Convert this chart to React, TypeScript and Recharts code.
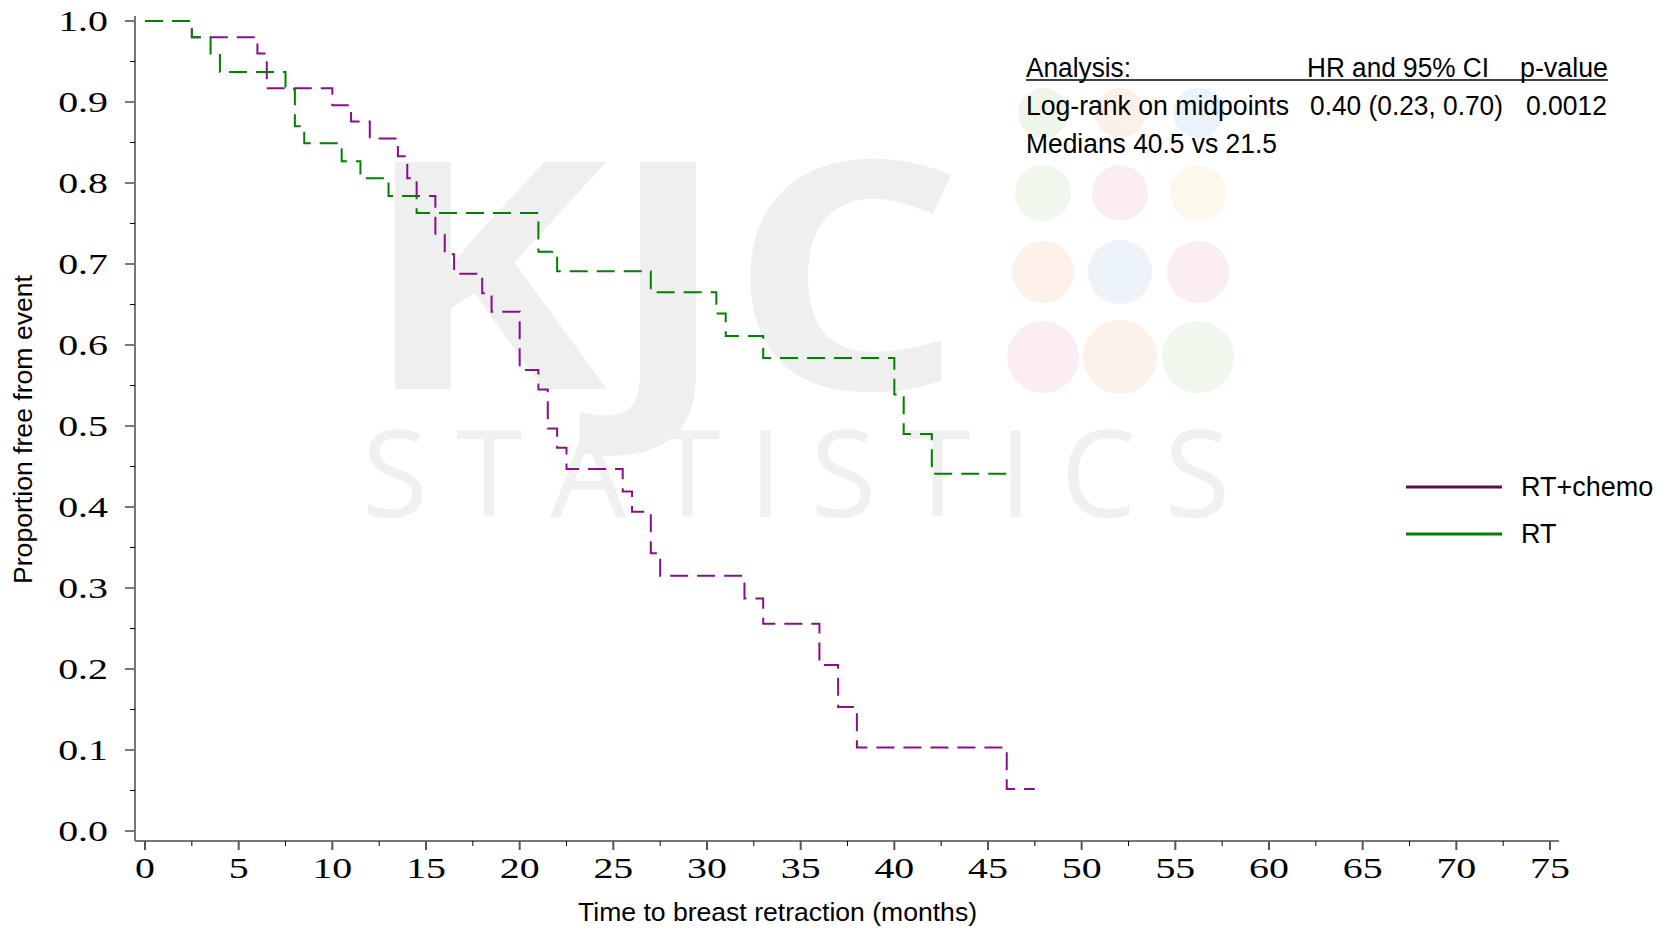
import React from 'react'
import { LineChart, Line, XAxis, YAxis } from 'recharts'

// Kaplan-Meier step points (months, proportion free from event)
const rtTimes = [0, 2.5, 3.5, 4, 7.5, 8, 8.5, 10.5, 11.5, 13, 14.5, 21, 22, 27, 30.5, 31, 33, 40, 40.5, 42, 46]
const rtSurv = [1, 0.98, 0.958, 0.937, 0.916, 0.87, 0.849, 0.827, 0.806, 0.784, 0.763, 0.715, 0.691, 0.665, 0.639, 0.611, 0.584, 0.539, 0.49, 0.441, 0.441]

const chemoTimes = [0, 2.5, 6, 6.5, 10, 11, 12, 13.5, 14, 14.5, 15.5, 16, 16.5, 18, 18.5, 20, 21, 21.5, 22, 22.5, 25.5, 26, 27, 27.5, 32, 33, 36, 37, 38, 46, 47.5]
const chemoSurv = [1, 0.98, 0.96, 0.917, 0.896, 0.876, 0.855, 0.833, 0.806, 0.784, 0.736, 0.712, 0.688, 0.664, 0.641, 0.569, 0.545, 0.497, 0.473, 0.447, 0.419, 0.394, 0.343, 0.315, 0.287, 0.256, 0.205, 0.153, 0.103, 0.052, 0.052]

const seriesNames = ['RT+chemo', 'RT']
const xMajor = [0, 5, 10, 15, 20, 25, 30, 35, 40, 45, 50, 55, 60, 65, 70, 75]
const yMajor = [0, 0.1, 0.2, 0.3, 0.4, 0.5, 0.6, 0.7, 0.8, 0.9, 1.0]

const annHeader = ['Analysis:', 'HR and 95% CI', 'p-value']
const annRow = ['Log-rank on midpoints', '0.40 (0.23, 0.70)', '0.0012']
const annMedians = 'Medians 40.5 vs 21.5'

const rtData = rtTimes.map((t, i) => ({ t, s: rtSurv[i] }))
const chemoData = chemoTimes.map((t, i) => ({ t, s: chemoSurv[i] }))

const xTicks = [...xMajor, ...xMajor.slice(0, -1).map(v => v + 2.5)].sort((a, b) => a - b)
const yTicks = [...yMajor, ...yMajor.slice(0, -1).map(v => +(v + 0.05).toFixed(2))].sort((a, b) => a - b)

const PURPLE = '#86108a'
const GREEN = '#008000'
const SERIF = "'Liberation Serif', 'Times New Roman', serif"
const SANS = "'Liberation Sans', Arial, sans-serif"

const XTick = (props: any) => {
  const { x, y, payload } = props
  const v = payload.value
  const major = Math.abs(v / 5 - Math.round(v / 5)) < 1e-6
  return (
    <g>
      <line x1={x} x2={x} y1={y} y2={y + (major ? 9 : 5)} stroke={major ? '#555' : '#000'} strokeWidth={major ? 2 : 1} />
      {major && (
        <text transform={`translate(${x},${y + 37}) scale(1.33,1)`} textAnchor="middle" fontFamily={SERIF} fontSize={30} fill="#000">
          {v}
        </text>
      )}
    </g>
  )
}

const YTick = (props: any) => {
  const { x, y, payload } = props
  const v = payload.value
  const major = Math.abs(v * 10 - Math.round(v * 10)) < 1e-6
  return (
    <g>
      <line x1={x - (major ? 10 : 5)} x2={x} y1={y} y2={y} stroke={major ? '#777' : '#000'} strokeWidth={major ? 2 : 1} />
      {major && (
        <text transform={`translate(${x - 27},${y + 10}) scale(1.33,1)`} textAnchor="end" fontFamily={SERIF} fontSize={30} fill="#000">
          {v.toFixed(1)}
        </text>
      )}
    </g>
  )
}

const dots = [
  { cx: 1043, cy: 113, r: 25, c: '#eef6ea' }, { cx: 1120, cy: 113, r: 25, c: '#fdf0e8' }, { cx: 1198, cy: 113, r: 25, c: '#eaf3fa' },
  { cx: 1043, cy: 193, r: 28, c: '#f0f7ec' }, { cx: 1120, cy: 193, r: 28, c: '#fcecf4' }, { cx: 1198, cy: 193, r: 28, c: '#fdf8ec' },
  { cx: 1043, cy: 272, r: 31, c: '#fdf1ea' }, { cx: 1120, cy: 272, r: 32, c: '#ecf4fa' }, { cx: 1198, cy: 272, r: 31, c: '#fcedf4' },
  { cx: 1043, cy: 357, r: 36, c: '#fcedf5' }, { cx: 1120, cy: 357, r: 37, c: '#fdf2ea' }, { cx: 1198, cy: 357, r: 36, c: '#f0f7ec' },
]

export default function App() {
  return (
    <div style={{ position: 'absolute', left: 0, top: 0, width: 1670, height: 930, background: '#fff', overflow: 'hidden' }}>
      {/* watermark */}
      <svg width={1670} height={930} style={{ position: 'absolute', left: 0, top: 0 }}>
        {dots.map((d, i) => <circle key={i} cx={d.cx} cy={d.cy} r={d.r} fill={d.c} />)}
        <text x={362} y={389} fontFamily="'Open Sans', sans-serif" fontWeight={700} fontSize={318} fill="#efefef" textLength={602} lengthAdjust="spacingAndGlyphs">KJC</text>
        <text x={362} y={517} fontFamily="'Open Sans', sans-serif" fontWeight={400} fontSize={120} fill="#f0f0f0" textLength={868} lengthAdjust="spacing">STATISTICS</text>
      </svg>

      <LineChart width={1670} height={930} margin={{ top: 16, right: 111, bottom: 0, left: 0 }}>
        <XAxis
          dataKey="t"
          type="number"
          domain={[0, 75]}
          ticks={xTicks}
          interval={0}
          padding={{ left: 10, right: 9 }}
          height={89}
          tickLine={false}
          tickSize={0}
          tickMargin={0}
          axisLine={{ stroke: '#777', strokeWidth: 2 }}
          tick={<XTick />}
        />
        <YAxis
          type="number"
          domain={[0, 1]}
          ticks={yTicks}
          interval={0}
          padding={{ top: 5, bottom: 10 }}
          width={135}
          tickLine={false}
          tickSize={0}
          tickMargin={0}
          axisLine={{ stroke: '#777', strokeWidth: 2 }}
          tick={<YTick />}
        />
        <Line data={chemoData} dataKey="s" name={seriesNames[0]} type="stepAfter" stroke={PURPLE} strokeWidth={2} strokeDasharray="18 9" dot={false} activeDot={false} isAnimationActive={false} />
        <Line data={rtData} dataKey="s" name={seriesNames[1]} type="stepAfter" stroke={GREEN} strokeWidth={2} strokeDasharray="18 9" dot={false} activeDot={false} isAnimationActive={false} />
      </LineChart>

      {/* legend, annotations and axis titles */}
      <svg width={1670} height={930} style={{ position: 'absolute', left: 0, top: 0, pointerEvents: 'none' }}>
        <g fontFamily={SANS} fontSize={27} fill="#000">
          <line x1={1406} x2={1502} y1={487} y2={487} stroke="#6b0a45" strokeWidth={3} />
          <text x={1521} y={496}>{seriesNames[0]}</text>
          <line x1={1406} x2={1502} y1={534} y2={534} stroke={GREEN} strokeWidth={3} />
          <text x={1521} y={543}>{seriesNames[1]}</text>

          <text x={1026} y={77} textLength={105} lengthAdjust="spacingAndGlyphs">{annHeader[0]}</text>
          <text x={1307} y={77} textLength={182} lengthAdjust="spacingAndGlyphs">{annHeader[1]}</text>
          <text x={1520} y={77} textLength={88} lengthAdjust="spacingAndGlyphs">{annHeader[2]}</text>
          <line x1={1026} x2={1608} y1={80} y2={80} stroke="#000" strokeWidth={1.5} />
          <text x={1026} y={115} textLength={263} lengthAdjust="spacingAndGlyphs">{annRow[0]}</text>
          <text x={1310} y={115} textLength={193} lengthAdjust="spacingAndGlyphs">{annRow[1]}</text>
          <text x={1526} y={115} textLength={81} lengthAdjust="spacingAndGlyphs">{annRow[2]}</text>
          <text x={1026} y={153} textLength={251} lengthAdjust="spacingAndGlyphs">{annMedians}</text>
        </g>
        <text x={578} y={921} fontFamily={SANS} fontSize={26} fill="#000" textLength={399} lengthAdjust="spacingAndGlyphs">
          Time to breast retraction (months)
        </text>
        <text transform="translate(32,584) rotate(-90)" fontFamily={SANS} fontSize={26} fill="#000" textLength={309} lengthAdjust="spacingAndGlyphs">
          Proportion free from event
        </text>
      </svg>
    </div>
  )
}
